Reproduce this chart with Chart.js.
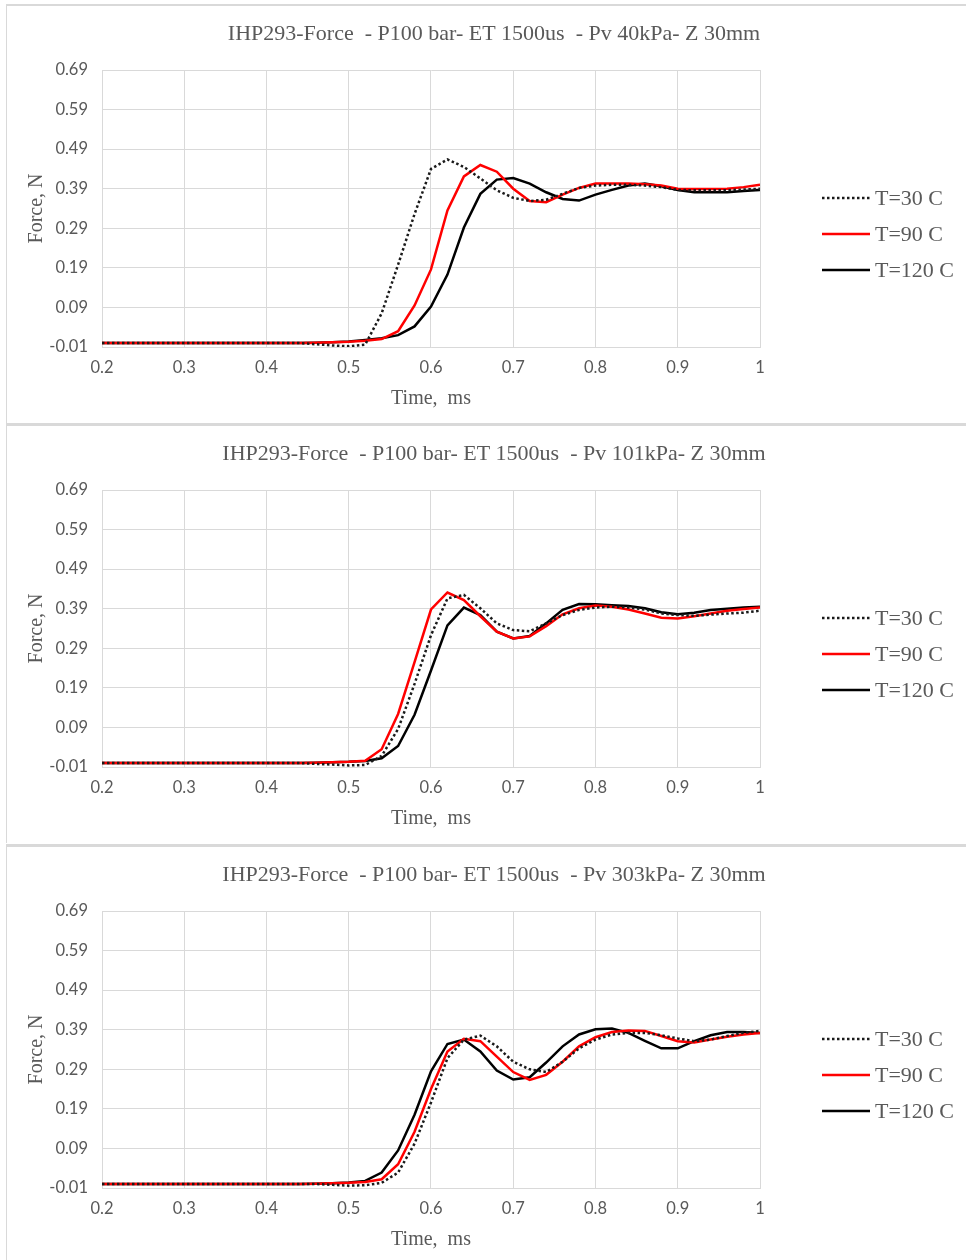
<!DOCTYPE html>
<html>
<head>
<meta charset="utf-8">
<script src="https://cdn.jsdelivr.net/npm/chart.js@4.4.1/dist/chart.umd.min.js"></script>
<style>
  body { margin: 0; background: #fff; overflow: hidden; }
  .panel { position: absolute; left: 6px; width: 960px; border-left: 1px solid #d9d9d9; border-top: 3px solid #d9d9d9; }
  .panel canvas { display: block; }
</style>
</head>
<body>
<div class="panel" style="top:4px; border-top-width:2px"><canvas id="pv40" width="959" height="417"></canvas></div>
<div class="panel" style="top:423px"><canvas id="pv101" width="959" height="417"></canvas></div>
<div class="panel" style="top:844px"><canvas id="pv303" width="959" height="417"></canvas></div>
<script>
// time axis, ms
const timeMs = [0.2, 0.22, 0.24, 0.26, 0.28, 0.3, 0.32, 0.34, 0.36, 0.38, 0.4, 0.42, 0.44,
  0.46, 0.48, 0.5, 0.52, 0.54, 0.56, 0.58, 0.6, 0.62, 0.64, 0.66, 0.68, 0.7, 0.72, 0.74,
  0.76, 0.78, 0.8, 0.82, 0.84, 0.86, 0.88, 0.9, 0.92, 0.94, 0.96, 0.98, 1.0];

const xTicks = [0.2, 0.3, 0.4, 0.5, 0.6, 0.7, 0.8, 0.9, 1.0];
const yTicks = [-0.01, 0.09, 0.19, 0.29, 0.39, 0.49, 0.59, 0.69];

const seriesNames = ['T=30 C', 'T=90 C', 'T=120 C'];

const titles = [
  'IHP293-Force  - P100 bar- ET 1500us  - Pv 40kPa- Z 30mm',
  'IHP293-Force  - P100 bar- ET 1500us  - Pv 101kPa- Z 30mm',
  'IHP293-Force  - P100 bar- ET 1500us  - Pv 303kPa- Z 30mm'
];

// Pv 40 kPa
const pv40_T30 = [0, 0, 0, 0, 0, 0, 0, 0, 0, 0, 0, 0, 0,
  -0.003, -0.006, -0.008, -0.004, 0.075, 0.198, 0.326, 0.44, 0.464, 0.445, 0.416, 0.386, 0.367, 0.359, 0.362,
  0.377, 0.392, 0.398, 0.4, 0.4, 0.398, 0.394, 0.387, 0.386, 0.386, 0.386, 0.388, 0.39];
const pv40_T90 = [0, 0, 0, 0, 0, 0, 0, 0, 0, 0, 0, 0, 0,
  0.001, 0.002, 0.003, 0.006, 0.01, 0.03, 0.095, 0.186, 0.335, 0.421, 0.45, 0.433, 0.39, 0.359, 0.356,
  0.375, 0.392, 0.403, 0.403, 0.403, 0.401, 0.398, 0.39, 0.389, 0.389, 0.39, 0.394, 0.4];
const pv40_T120 = [0, 0, 0, 0, 0, 0, 0, 0, 0, 0, 0, 0, 0,
  0.001, 0.002, 0.004, 0.008, 0.012, 0.02, 0.042, 0.092, 0.173, 0.292, 0.377, 0.413, 0.417, 0.403, 0.381,
  0.364, 0.36, 0.375, 0.387, 0.398, 0.403, 0.396, 0.387, 0.381, 0.381, 0.381, 0.384, 0.387];

// Pv 101 kPa
const pv101_T30 = [0, 0, 0, 0, 0, 0, 0, 0, 0, 0, 0, 0, 0,
  -0.002, -0.004, -0.006, -0.005, 0.018, 0.086, 0.2, 0.323, 0.416, 0.425, 0.391, 0.353, 0.336, 0.333, 0.353,
  0.374, 0.387, 0.393, 0.395, 0.393, 0.388, 0.378, 0.374, 0.372, 0.375, 0.378, 0.38, 0.385];
const pv101_T90 = [0, 0, 0, 0, 0, 0, 0, 0, 0, 0, 0, 0, 0,
  0.001, 0.002, 0.003, 0.006, 0.035, 0.124, 0.255, 0.388, 0.431, 0.412, 0.371, 0.332, 0.315, 0.32, 0.346,
  0.376, 0.391, 0.398, 0.395, 0.388, 0.378, 0.367, 0.365, 0.371, 0.378, 0.385, 0.389, 0.393];
const pv101_T120 = [0, 0, 0, 0, 0, 0, 0, 0, 0, 0, 0, 0, 0,
  0.001, 0.002, 0.003, 0.005, 0.012, 0.043, 0.122, 0.234, 0.348, 0.393, 0.374, 0.332, 0.315, 0.321, 0.353,
  0.387, 0.402, 0.401, 0.399, 0.397, 0.391, 0.381, 0.376, 0.38, 0.387, 0.39, 0.393, 0.395];

// Pv 303 kPa
const pv303_T30 = [0, 0, 0, 0, 0, 0, 0, 0, 0, 0, 0, 0, 0,
  0, -0.002, -0.004, -0.003, 0.003, 0.029, 0.102, 0.206, 0.318, 0.365, 0.375, 0.348, 0.309, 0.29, 0.283,
  0.309, 0.343, 0.365, 0.378, 0.382, 0.382, 0.376, 0.368, 0.361, 0.365, 0.374, 0.382, 0.387];
const pv303_T90 = [0, 0, 0, 0, 0, 0, 0, 0, 0, 0, 0, 0, 0,
  0.001, 0.002, 0.003, 0.005, 0.012, 0.05, 0.132, 0.24, 0.335, 0.367, 0.361, 0.322, 0.283, 0.263, 0.276,
  0.309, 0.348, 0.371, 0.384, 0.388, 0.387, 0.374, 0.361, 0.358, 0.365, 0.372, 0.378, 0.382];
const pv303_T120 = [0, 0, 0, 0, 0, 0, 0, 0, 0, 0, 0, 0, 0,
  0.001, 0.002, 0.004, 0.008, 0.029, 0.085, 0.175, 0.285, 0.354, 0.365, 0.335, 0.287, 0.264, 0.27, 0.307,
  0.348, 0.378, 0.391, 0.393, 0.382, 0.362, 0.343, 0.343, 0.361, 0.376, 0.384, 0.384, 0.382];

const textGrey = '#595959';
const gridGrey = '#d9d9d9';
const serif = '"Liberation Serif", "Times New Roman", serif';

Chart.defaults.font.family = 'Lato, "Open Sans", sans-serif';
Chart.defaults.color = textGrey;

// chart title plus a legend on the right, drawn straight onto the canvas
const panelDecor = {
  id: 'panelDecor',
  afterDraw(chart, args, opts) {
    const ctx = chart.ctx;
    ctx.save();
    ctx.fillStyle = textGrey;
    ctx.font = '22px ' + serif;
    ctx.textBaseline = 'middle';
    ctx.textAlign = 'center';
    ctx.fillText(opts.text, 487, 28);

    ctx.textAlign = 'left';
    chart.data.datasets.forEach((ds, i) => {
      const y = 192 + i * 36;
      ctx.strokeStyle = ds.borderColor;
      ctx.lineWidth = ds.borderWidth;
      ctx.setLineDash(ds.borderDash || []);
      ctx.beginPath();
      ctx.moveTo(815, y);
      ctx.lineTo(863, y);
      ctx.stroke();
      ctx.setLineDash([]);
      ctx.fillText(ds.label, 868, y + 1);
    });
    ctx.restore();
  }
};

function toPoints(values) {
  return values.map((v, i) => ({ x: timeMs[i], y: v }));
}

function makeChart(id, title, t30, t90, t120) {
  new Chart(document.getElementById(id), {
    type: 'line',
    data: {
      datasets: [
        { label: seriesNames[0], data: toPoints(t30), borderColor: '#1a1a1a', borderWidth: 2.5, borderDash: [2.5, 2.5] },
        { label: seriesNames[1], data: toPoints(t90), borderColor: '#ff0000', borderWidth: 2.5 },
        { label: seriesNames[2], data: toPoints(t120), borderColor: '#000000', borderWidth: 2.5 }
      ]
    },
    options: {
      responsive: false,
      animation: false,
      elements: {
        point: { radius: 0 },
        line: { tension: 0, fill: false }
      },
      layout: { padding: { top: 64, right: 206, left: 0, bottom: 0 } },
      scales: {
        x: {
          type: 'linear',
          min: 0.2,
          max: 1.0,
          afterFit: s => { s.height = 76; },
          afterBuildTicks: s => { s.ticks = xTicks.map(v => ({ value: v })); },
          grid: { color: gridGrey, drawTicks: false },
          border: { color: gridGrey },
          ticks: {
            padding: 11,
            font: { size: 16.5 },
            color: textGrey,
            maxRotation: 0,
            callback: v => String(+v.toFixed(1))
          },
          title: {
            display: true,
            text: 'Time,  ms',
            font: { family: serif, size: 20 },
            color: textGrey,
            padding: { top: 0, bottom: 12 }
          }
        },
        y: {
          min: -0.01,
          max: 0.69,
          afterFit: s => { s.width = 95; },
          afterBuildTicks: s => { s.ticks = yTicks.map(v => ({ value: v })); },
          grid: { color: gridGrey, drawTicks: false },
          border: { color: gridGrey },
          ticks: {
            padding: 14,
            font: { size: 16.5 },
            color: textGrey,
            callback: v => v.toFixed(2)
          },
          title: {
            display: true,
            text: 'Force, N',
            font: { family: serif, size: 20 },
            color: textGrey,
            padding: { top: 18, bottom: 0 }
          }
        }
      },
      plugins: {
        legend: { display: false },
        tooltip: { enabled: false },
        panelDecor: { text: title }
      }
    },
    plugins: [panelDecor]
  });
}

makeChart('pv40', titles[0], pv40_T30, pv40_T90, pv40_T120);
makeChart('pv101', titles[1], pv101_T30, pv101_T90, pv101_T120);
makeChart('pv303', titles[2], pv303_T30, pv303_T90, pv303_T120);
</script>
</body>
</html>
